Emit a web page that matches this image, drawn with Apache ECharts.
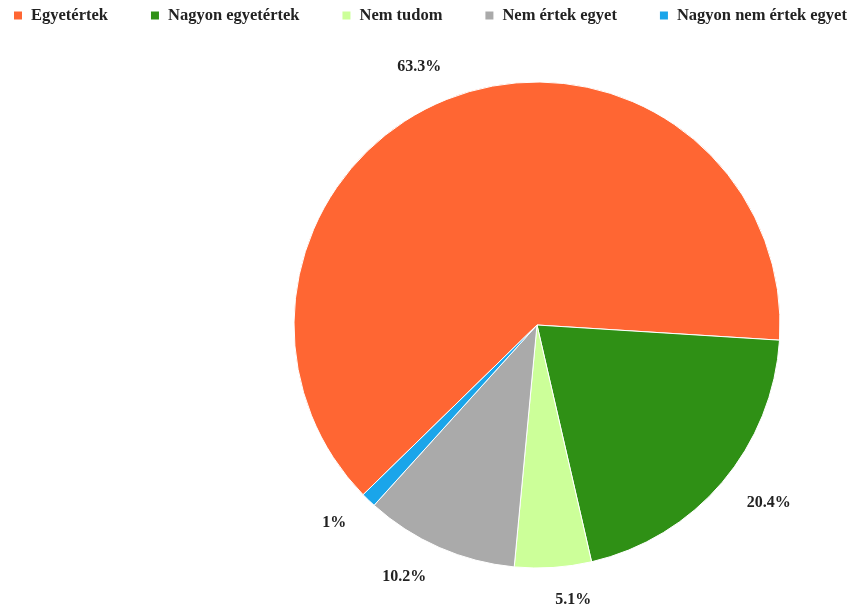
<!DOCTYPE html>
<html>
<head>
<meta charset="utf-8">
<script src="https://cdn.jsdelivr.net/npm/echarts@6/dist/echarts.min.js"></script>
<style>
  html, body { margin: 0; padding: 0; background: #fff; }
  #chart { width: 852px; height: 610px; }
</style>
</head>
<body>
<div id="chart"></div>
<script>
// Answer categories and their share (percent)
const categories = ['Egyetértek', 'Nagyon egyetértek', 'Nem tudom', 'Nem értek egyet', 'Nagyon nem értek egyet'];
const shares = [63.3, 20.4, 5.1, 10.2, 1];
const colors = ['#ff6633', '#2f9015', '#ccff99', '#aaaaaa', '#1aa5ea'];

const FONT = '"Liberation Serif", "Times New Roman", serif';

const chart = echarts.init(document.getElementById('chart'), null, { renderer: 'canvas' });

chart.setOption({
  animation: false,
  color: colors,
  legend: {
    top: 7,
    left: 12,
    width: 840,
    padding: 0,
    itemWidth: 10,
    itemHeight: 10,
    itemGap: 41,
    icon: 'rect',
    textStyle: {
      fontFamily: FONT,
      fontWeight: 'bold',
      fontSize: 16.5,
      color: '#222',
      padding: [0, 0, 0, 3]
    },
    data: categories
  },
  series: [{
    type: 'pie',
    center: [537, 325],
    radius: [0, 243],
    startAngle: 224.3,
    clockwise: true,
    avoidLabelOverlap: false,
    itemStyle: { borderColor: '#fff', borderWidth: 1 },
    label: {
      show: true,
      position: 'outside',
      formatter: p => p.value + '%',
      fontFamily: FONT,
      fontWeight: 'bold',
      fontSize: 16,
      color: '#222',
      distanceToLabelLine: 0
    },
    labelLine: { show: false, length: 32, length2: 0 },
    emphasis: { disabled: true },
    data: categories.map((name, i) => ({ name, value: shares[i] }))
  }]
});
</script>
</body>
</html>
